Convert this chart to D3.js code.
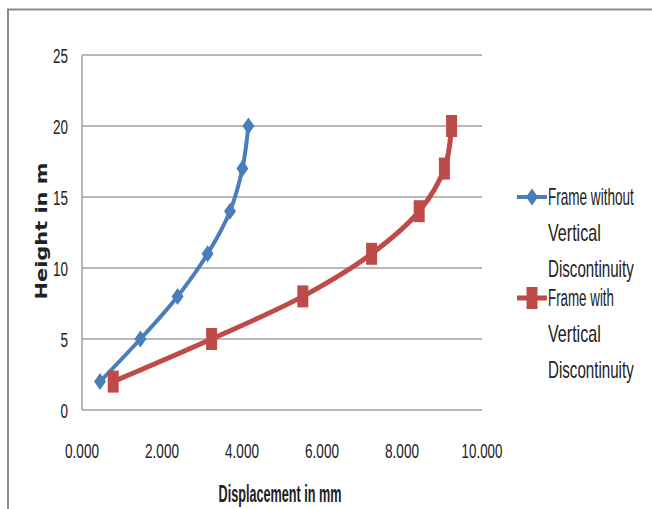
<!DOCTYPE html>
<html>
<head>
<meta charset="utf-8">
<script src="https://cdn.jsdelivr.net/npm/d3@7"></script>
<style>
  html, body { margin: 0; padding: 0; background: #fff; }
  svg { display: block; }
  .narrow { font-family: "Liberation Sans Narrow", "Liberation Sans", Arial, sans-serif; fill: #222; }
</style>
</head>
<body>
<svg id="chart" width="652" height="509"></svg>
<script>
// Height levels (m) shared by both frames
const heights = [2, 5, 8, 11, 14, 17, 20];
// Storey displacement (mm)
const dispWithout = [0.45, 1.46, 2.39, 3.14, 3.70, 4.01, 4.16];
const dispWith    = [0.78, 3.24, 5.52, 7.24, 8.43, 9.06, 9.24];
const seriesNames = [
  ["Frame without", "Vertical", "Discontinuity"],
  ["Frame with", "Vertical", "Discontinuity"]
];
const xTicks = [0, 2, 4, 6, 8, 10];
const yTicks = [0, 5, 10, 15, 20, 25];

const svg = d3.select("#chart");
const colors = ["#4a7ebb", "#be4b48"];

// Condensed text: set at a tall font size, then squeezed horizontally to a target width
function fitText(sel, w) {
  sel.each(function () {
    const t = d3.select(this);
    const nat = this.getComputedTextLength();
    const tx = +t.attr("data-x"), ty = +t.attr("data-y");
    const target = typeof w === "function" ? w(t.datum()) : w;
    t.attr("transform", `translate(${tx},${ty}) scale(${target / nat},1)`);
  });
}

// Outer frame: top and left edges
svg.append("path")
  .attr("d", "M8,509 L8,9.5 L652,9.5")
  .attr("fill", "none").attr("stroke", "#8c8c8c").attr("stroke-width", 2);

const x = d3.scaleLinear().domain([0, 10]).range([82, 482]);
const y = d3.scaleLinear().domain([0, 25]).range([410, 55]);

// Horizontal gridlines
svg.append("g").selectAll("line").data(yTicks).join("line")
  .attr("x1", x(0)).attr("x2", x(10))
  .attr("y1", d => y(d)).attr("y2", d => y(d))
  .attr("stroke", "#a0a0a0").attr("stroke-width", 1.5);

// Vertical axis line
svg.append("line")
  .attr("x1", x(0)).attr("x2", x(0)).attr("y1", y(25)).attr("y2", y(0))
  .attr("stroke", "#a0a0a0").attr("stroke-width", 1.5);

// Y tick labels
svg.append("g").selectAll("text").data(yTicks).join("text")
  .attr("class", "narrow")
  .attr("data-x", 68).attr("data-y", d => y(d) + 7.5)
  .attr("text-anchor", "end")
  .attr("font-size", 21)
  .text(d => d)
  .call(fitText, d => String(d).length * 7.5);

// X tick labels
const fmt = d3.format(".3f");
svg.append("g").selectAll("text").data(xTicks).join("text")
  .attr("class", "narrow")
  .attr("data-x", d => x(d)).attr("data-y", 458)
  .attr("text-anchor", "middle")
  .attr("font-size", 21)
  .text(d => fmt(d))
  .call(fitText, d => fmt(d).length * 6.8);

// Axis titles
svg.append("text")
  .datum("Displacement in mm")
  .attr("class", "narrow")
  .attr("data-x", 280).attr("data-y", 502)
  .attr("text-anchor", "middle")
  .attr("font-size", 24)
  .attr("font-weight", "bold")
  .text(d => d)
  .call(fitText, 123);

svg.append("text")
  .attr("transform", "translate(47,231) rotate(-90)")
  .attr("text-anchor", "middle")
  .attr("font-family", "'DejaVu Sans', Verdana, sans-serif")
  .attr("font-weight", "bold")
  .attr("font-size", 15)
  .attr("fill", "#222")
  .attr("textLength", 137)
  .attr("lengthAdjust", "spacingAndGlyphs")
  .text("Height in m");

// Series lines (smoothed) and markers
const line = d3.line()
  .x(d => x(d[0])).y(d => y(d[1]))
  .curve(d3.curveCatmullRom.alpha(0.5));

const series = [dispWithout, dispWith].map(vals => vals.map((v, i) => [v, heights[i]]));

series.forEach((pts, si) => {
  svg.append("path")
    .datum(pts)
    .attr("d", line)
    .attr("fill", "none")
    .attr("stroke", colors[si])
    .attr("stroke-width", si === 0 ? 4 : 5)
    .attr("stroke-linejoin", "round");
});

const diamond = "M0,-8.5 L6,0 L0,8.5 L-6,0 Z";
const square = "M-5.5,-11 L5.5,-11 L5.5,11 L-5.5,11 Z";

series.forEach((pts, si) => {
  svg.append("g").selectAll("path").data(pts).join("path")
    .attr("transform", d => `translate(${x(d[0])},${y(d[1])})`)
    .attr("d", si === 0 ? diamond : square)
    .attr("fill", colors[si]);
});

// Legend
const legend = svg.append("g");
const legendRows = [197, 298];
seriesNames.forEach((lines, si) => {
  const ly = legendRows[si];
  legend.append("line")
    .attr("x1", 517).attr("x2", 547).attr("y1", ly).attr("y2", ly)
    .attr("stroke", colors[si]).attr("stroke-width", si === 0 ? 4 : 5);
  legend.append("path")
    .attr("transform", `translate(532,${ly})`)
    .attr("d", si === 0 ? diamond : square)
    .attr("fill", colors[si]);
  legend.selectAll(null).data(lines).join("text")
    .attr("class", "narrow")
    .attr("data-x", 548).attr("data-y", (t, li) => ly + li * 36 + 8)
    .attr("font-size", 23)
    .text(t => t)
    .call(fitText, t => t.length * 6.6);
});
</script>
</body>
</html>
